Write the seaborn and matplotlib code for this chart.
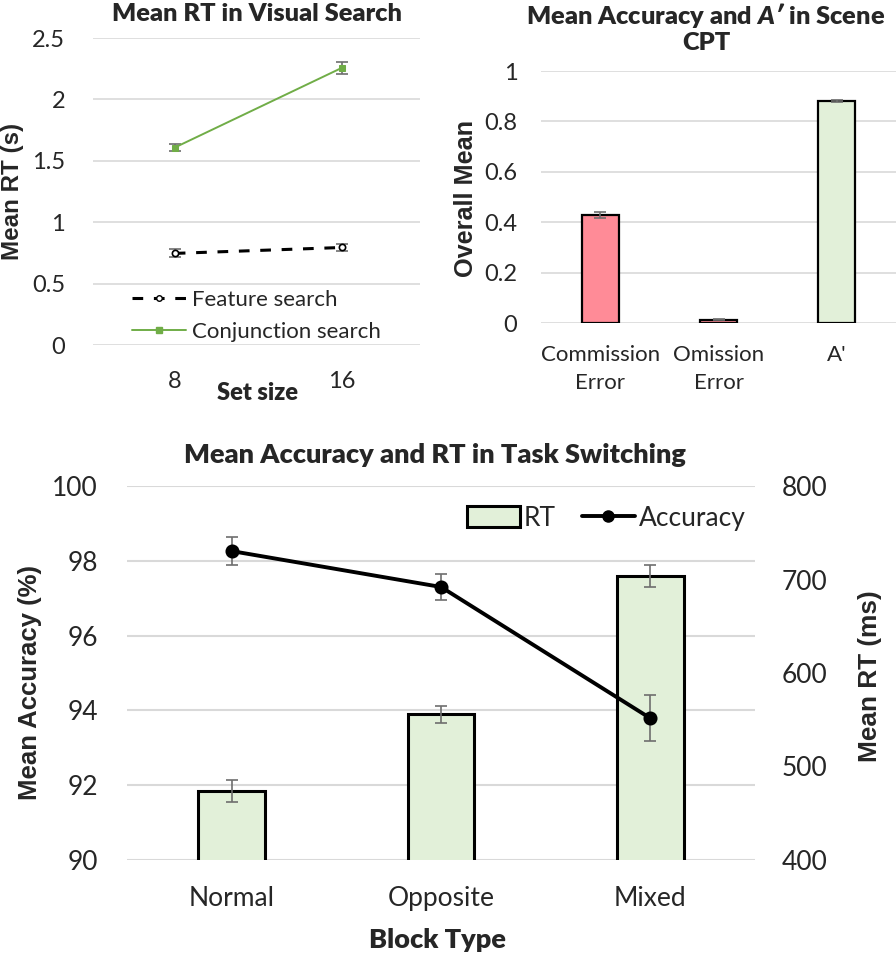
import matplotlib
matplotlib.use("Agg")
import matplotlib.pyplot as plt
import seaborn as sns
import pandas as pd
from matplotlib.lines import Line2D
from matplotlib.patches import Patch

# ---- data ----
set_sizes = ["8", "16"]
feature_rt = [0.746, 0.794]
feature_err = [0.033, 0.026]
conj_rt = [1.608, 2.256]
conj_err = [0.027, 0.047]

cpt_labels = ["Commission\nError", "Omission\nError", "A'"]
cpt_means = [0.428, 0.013, 0.88]
cpt_err = [0.012, 0.003, 0.003]
cpt_colors = ["#FF8B97", "#FF8B97", "#E2F0D9"]

blocks = ["Normal", "Opposite", "Mixed"]
rt_ms = [474, 556, 704]
rt_err = [12, 9, 12]
acc_pct = [98.26, 97.30, 93.79]
acc_err = [0.37, 0.36, 0.62]

GREEN = "#70AD47"
GRID = "#D9D9D9"
ERRC = "#6E6E6E"
BOLD = "heavy"
ARIAL = ["Liberation Sans", "DejaVu Sans"]

sns.set_theme(style="white")
plt.rcParams["font.family"] = ["Lato", "DejaVu Sans"]
plt.rcParams["mathtext.fontset"] = "custom"
plt.rcParams["mathtext.bfit"] = "Lato:italic:heavy"
plt.rcParams["mathtext.rm"] = "Lato:heavy"

W, H = 896, 966
fig = plt.figure(figsize=(W / 100, H / 100), dpi=100)
renderer = fig.canvas.get_renderer()


def box(l, t, r, b):
    return [l / W, 1 - b / H, (r - l) / W, (b - t) / H]


def clean(ax):
    for s in ax.spines.values():
        s.set_visible(False)
    ax.tick_params(axis="both", length=0)
    ax.grid(False)
    ax.set_facecolor("none")


def ylab(x, y, text, length):
    # rotated axis title, sized so that it spans `length` px as in the reference
    t = fig.text(x / W, 1 - y / H, text, rotation=90, ha="center", va="center",
                 fontsize=18, fontweight="bold", family=ARIAL)
    h = t.get_window_extent(renderer).height
    t.set_fontsize(18 * length / h)
    return t


# ---- top left: visual search ----
ax1 = fig.add_axes(box(93, 38, 420, 345))
clean(ax1)
pos = list(range(len(set_sizes)))
vs = pd.DataFrame({"pos": pos * 2,
                   "rt": feature_rt + conj_rt,
                   "series": ["Feature search"] * 2 + ["Conjunction search"] * 2})
sns.lineplot(data=vs[vs.series == "Feature search"], x="pos", y="rt", ax=ax1,
             color="black", lw=2.2, marker="o", ms=4.5,
             mfc="white", mec="black", mew=1.2, zorder=3)
ax1.lines[-1].set_dashes((3.5, 3.5))
sns.lineplot(data=vs[vs.series == "Conjunction search"], x="pos", y="rt", ax=ax1,
             color=GREEN, lw=1.4, marker="s", ms=4.5, mec=GREEN, zorder=3)
ax1.errorbar(pos, feature_rt, yerr=feature_err, fmt="none", ecolor=ERRC,
             elinewidth=1.2, capsize=4, capthick=1.2, zorder=2)
ax1.errorbar(pos, conj_rt, yerr=conj_err, fmt="none", ecolor=ERRC,
             elinewidth=1.2, capsize=4, capthick=1.2, zorder=2)
ax1.set_xlim(-0.49, 1.47)
ax1.set_ylim(0, 2.5)
ax1.set_yticks([0, 0.5, 1, 1.5, 2, 2.5])
ax1.set_yticklabels(["0", "0.5", "1", "1.5", "2", "2.5"])
ax1.set_xticks(pos)
ax1.set_xticklabels(set_sizes)
ax1.yaxis.grid(True, color=GRID, lw=1.2)
ax1.set_axisbelow(True)
ax1.tick_params(axis="y", labelsize=17, pad=20)
ax1.tick_params(axis="x", labelsize=17, pad=19)
ax1.set_xlabel("")
ax1.set_ylabel("")
fig.text(257 / W, 1 - 393 / H, "Set size", ha="center", va="center",
         fontsize=17, fontweight=BOLD)
ylab(13, 191, "Mean RT (s)", 137)
fig.text(257 / W, 1 - 14 / H, "Mean RT in Visual Search", ha="center",
         va="center", fontsize=18.3, fontweight=BOLD)
h1 = [Line2D([], [], color="black", lw=2.2, dashes=(3.5, 3.5), marker="o",
             ms=4, mfc="white", mec="black"),
      Line2D([], [], color=GREEN, lw=1.4, marker="s", ms=4, mec=GREEN)]
ax1.legend(h1, ["Feature search", "Conjunction search"], loc="center left",
           bbox_to_anchor=(0.12, 0.094), frameon=False, fontsize=16,
           handlelength=2.4, handletextpad=0.3, labelspacing=0.55,
           borderpad=0, borderaxespad=0)

# ---- top right: scene CPT ----
ax2 = fig.add_axes(box(541, 71, 896, 323))
clean(ax2)
sns.barplot(x=cpt_labels, y=cpt_means, hue=cpt_labels, palette=cpt_colors,
            saturation=1, legend=False, ax=ax2, width=0.31, edgecolor="black",
            linewidth=1.6, errorbar=None, zorder=2)
ax2.errorbar(range(len(cpt_labels)), cpt_means, yerr=cpt_err, fmt="none",
             ecolor=ERRC, elinewidth=1.2, capsize=4, capthick=1.2, zorder=3)
ax2.set_xlim(-0.5, 2.5)
ax2.set_ylim(0, 1)
ax2.set_yticks([0, 0.2, 0.4, 0.6, 0.8, 1])
ax2.set_yticklabels(["0", "0.2", "0.4", "0.6", "0.8", "1"])
ax2.yaxis.grid(True, color=GRID, lw=1.2)
ax2.set_axisbelow(True)
ax2.tick_params(axis="y", labelsize=17, pad=17)
ax2.tick_params(axis="x", labelsize=16, pad=16)
for t in ax2.get_xticklabels():
    t.set_linespacing(1.5)
ax2.set_xlabel("")
ax2.set_ylabel("")
ylab(466, 198, "Overall Mean", 157)
fig.text(706 / W, 1 - 15 / H, "Mean Accuracy and $\\mathbfit{A\u2032}$ in Scene",
         ha="center", va="center", fontsize=18.3, fontweight=BOLD)
fig.text(706 / W, 1 - 43 / H, "CPT", ha="center", va="center",
         fontsize=18.3, fontweight=BOLD)

# ---- bottom: task switching ----
ax3 = fig.add_axes(box(127, 486, 755, 860))  # accuracy axis (left ticks, grid)
clean(ax3)
ax3.set_ylim(90, 100)
ax3.set_yticks([90, 92, 94, 96, 98, 100])
ax3.yaxis.grid(True, color=GRID, lw=1.5)
ax3.set_xlim(-0.5, 2.5)
ax3.set_xticks(range(len(blocks)))
ax3.set_xticklabels(blocks)
ax3.tick_params(axis="y", labelsize=19, pad=21)
ax3.tick_params(axis="x", labelsize=19, pad=19)

ax4 = ax3.twinx()  # RT bars
clean(ax4)
sns.barplot(x=blocks, y=rt_ms, ax=ax4, color="#E2F0D9", saturation=1,
            width=0.32, edgecolor="black", linewidth=2.2, errorbar=None)
ax4.errorbar(range(len(blocks)), rt_ms, yerr=rt_err, fmt="none", ecolor=ERRC,
             elinewidth=1.2, capsize=4, capthick=1.2, zorder=3)
ax4.set_ylim(400, 800)
ax4.set_yticks([400, 500, 600, 700, 800])
ax4.set_xlim(-0.5, 2.5)
ax4.set_xlabel("")
ax4.set_ylabel("")
ax4.tick_params(axis="y", labelsize=19, pad=19, labelright=True, labelleft=False)

ax5 = ax3.twinx()  # accuracy line on top
clean(ax5)
sns.pointplot(x=blocks, y=acc_pct, ax=ax5, color="black", markers="o",
              markersize=8, linewidth=2.8, errorbar=None)
ax5.errorbar(range(len(blocks)), acc_pct, yerr=acc_err, fmt="none", ecolor=ERRC,
             elinewidth=1.2, capsize=4, capthick=1.2, zorder=1)
ax5.set_ylim(90, 100)
ax5.set_xlim(-0.5, 2.5)
ax5.set_yticks([])
ax5.set_xlabel("")
ax5.set_ylabel("")

h3 = [Patch(facecolor="#E2F0D9", edgecolor="black", linewidth=2.2),
      Line2D([], [], color="black", lw=2.8, marker="o", ms=8)]
ax5.legend(h3, ["RT", "Accuracy"], loc="center right",
           bbox_to_anchor=(0.985, 0.914), ncol=2, frameon=False,
           fontsize=19, handlelength=2.0, handleheight=0.8,
           handletextpad=0.15, columnspacing=1.0,
           borderpad=0, borderaxespad=0)

fig.text(435 / W, 1 - 455 / H, "Mean Accuracy and RT in Task Switching",
         ha="center", va="center", fontsize=19.5, fontweight=BOLD)
fig.text(437 / W, 1 - 940 / H, "Block Type", ha="center", va="center",
         fontsize=19.5, fontweight=BOLD)
ylab(30, 682, "Mean Accuracy (%)", 235)
ylab(870, 676, "Mean RT (ms)", 172)

fig.savefig("out.png", dpi=100)
